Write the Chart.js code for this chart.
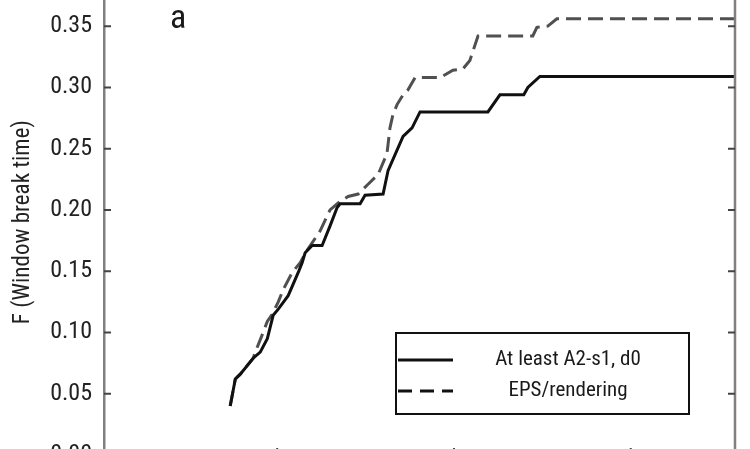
<!DOCTYPE html>
<html>
<head>
<meta charset="utf-8">
<script src="https://cdn.jsdelivr.net/npm/chart.js@4.4.1/dist/chart.umd.min.js"></script>
<style>
  html, body { margin: 0; padding: 0; background: #fff; overflow: hidden; }
  body { width: 750px; height: 449px; position: relative; }
  #wrap { position: absolute; left: 0; top: -37px; width: 750px; height: 532px; }
</style>
</head>
<body>
<div id="wrap"><canvas id="chart"></canvas></div>
<script>
const seriesNames = ["At least A2-s1, d0", "EPS/rendering"];
const panelLabel = "a";
const yTitle = "F (Window break time)";
const yTicks = [0, 0.05, 0.10, 0.15, 0.20, 0.25, 0.30, 0.35];
const xTicks = [1, 2, 3];

// solid curve
const timeA = [0.734, 0.763, 0.791, 0.864, 0.904, 0.944, 0.977, 1.006, 1.062, 1.119, 1.141, 1.158,
  1.198, 1.254, 1.299, 1.339, 1.356, 1.469, 1.497, 1.599, 1.627, 1.712, 1.763, 1.808, 2.192,
  2.260, 2.395, 2.418, 2.486, 3.59];
const fracA = [0.040, 0.062, 0.066, 0.079, 0.084, 0.095, 0.114, 0.119, 0.130, 0.149, 0.157, 0.165,
  0.171, 0.171, 0.187, 0.202, 0.205, 0.205, 0.212, 0.213, 0.232, 0.260, 0.267, 0.280, 0.280,
  0.294, 0.294, 0.300, 0.309, 0.309];

// dashed curve
const timeB = [0.734, 0.763, 0.791, 0.864, 0.876, 0.915, 0.944, 0.972, 1.006, 1.034, 1.085, 1.130,
  1.169, 1.243, 1.299, 1.356, 1.401, 1.458, 1.514, 1.571, 1.621, 1.638, 1.655, 1.678, 1.712,
  1.740, 1.780, 1.921, 1.994, 2.050, 2.090, 2.136, 2.446, 2.469, 2.531, 2.582, 3.59];
const fracB = [0.040, 0.062, 0.066, 0.079, 0.084, 0.098, 0.109, 0.115, 0.125, 0.135, 0.149, 0.157,
  0.167, 0.183, 0.200, 0.207, 0.211, 0.213, 0.221, 0.229, 0.246, 0.267, 0.278, 0.286, 0.294,
  0.298, 0.308, 0.308, 0.314, 0.315, 0.322, 0.342, 0.342, 0.349, 0.350, 0.356, 0.356];

const FONT = "'Liberation Sans Narrow', 'Roboto Condensed', 'Noto Sans Condensed', 'DejaVu Sans Condensed', sans-serif";

function toPoints(xs, ys) {
  return xs.map((x, i) => ({ x: x, y: ys[i] }));
}

// frame, inward ticks, panel letter and boxed legend
const framePlugin = {
  id: "frame",
  afterDraw(chart) {
    const { ctx, chartArea: a, scales: { x, y } } = chart;
    ctx.save();

    ctx.strokeStyle = "#808080";
    ctx.lineWidth = 2.5;
    ctx.beginPath();
    ctx.moveTo(a.right, a.top);
    ctx.lineTo(a.right, a.bottom);
    ctx.stroke();

    ctx.strokeStyle = "#444";
    ctx.lineWidth = 2;
    ctx.beginPath();
    yTicks.forEach(v => {
      const py = y.getPixelForValue(v);
      ctx.moveTo(a.left, py); ctx.lineTo(a.left + 7, py);
      ctx.moveTo(a.right, py); ctx.lineTo(a.right - 7, py);
    });
    xTicks.forEach(v => {
      const px = x.getPixelForValue(v);
      ctx.moveTo(px, a.bottom); ctx.lineTo(px, a.bottom - 7);
    });
    ctx.stroke();

    // panel letter
    ctx.fillStyle = "#1a1a1a";
    ctx.font = "34px " + FONT;
    ctx.textAlign = "left";
    ctx.textBaseline = "alphabetic";
    ctx.fillText(panelLabel, a.left + 66, a.top + 39);

    // legend box
    const bx = a.right - 339, by = a.bottom - 122, bw = 293, bh = 81;
    ctx.fillStyle = "#fff";
    ctx.fillRect(bx, by, bw, bh);
    ctx.strokeStyle = "#111";
    ctx.lineWidth = 2;
    ctx.strokeRect(bx, by, bw, bh);

    ctx.font = "21px " + FONT;
    ctx.textAlign = "center";
    ctx.textBaseline = "middle";
    chart.data.datasets.forEach((ds, i) => {
      const ry = by + 27 + i * 31;
      ctx.strokeStyle = "#111";
      ctx.lineWidth = 3;
      ctx.setLineDash(i === 1 ? [14, 8] : []);
      ctx.beginPath();
      ctx.moveTo(bx + 2, ry);
      ctx.lineTo(bx + 57, ry);
      ctx.stroke();
      ctx.setLineDash([]);
      ctx.fillStyle = "#1a1a1a";
      ctx.fillText(ds.label, bx + 172, ry);
    });

    ctx.restore();
  }
};

const ctx = document.getElementById("chart").getContext("2d");

new Chart(ctx, {
  type: "line",
  data: {
    datasets: [
      {
        label: seriesNames[0],
        data: toPoints(timeA, fracA),
        borderColor: "#111",
        borderWidth: 3,
        pointRadius: 0,
        tension: 0,
        fill: false
      },
      {
        label: seriesNames[1],
        data: toPoints(timeB, fracB),
        borderColor: "#505050",
        borderWidth: 3,
        borderDash: [15, 7],
        pointRadius: 0,
        tension: 0,
        fill: false
      }
    ]
  },
  options: {
    responsive: true,
    maintainAspectRatio: false,
    animation: false,
    layout: { padding: { top: 20, right: 15, bottom: 0, left: 0 } },
    plugins: {
      legend: { display: false },
      tooltip: { enabled: false }
    },
    scales: {
      x: {
        type: "linear",
        min: 0.02,
        max: 3.59,
        grid: { display: false, drawTicks: false },
        border: { display: false },
        ticks: { display: false },
        afterFit: s => { s.height = 40; }
      },
      y: {
        type: "linear",
        min: 0,
        max: 0.38,
        grid: { display: false, drawTicks: false },
        border: { display: true, color: "#808080", width: 2.5 },
        ticks: {
          stepSize: 0.05,
          includeBounds: false,
          padding: 12,
          color: "#222",
          font: { family: FONT, size: 24 },
          callback: v => v.toFixed(2)
        },
        title: {
          display: true,
          text: yTitle,
          color: "#222",
          font: { family: FONT, size: 23 },
          padding: { top: 9, bottom: 0 }
        },
        afterFit: s => { s.width = 104; }
      }
    }
  },
  plugins: [framePlugin]
});
</script>
</body>
</html>
